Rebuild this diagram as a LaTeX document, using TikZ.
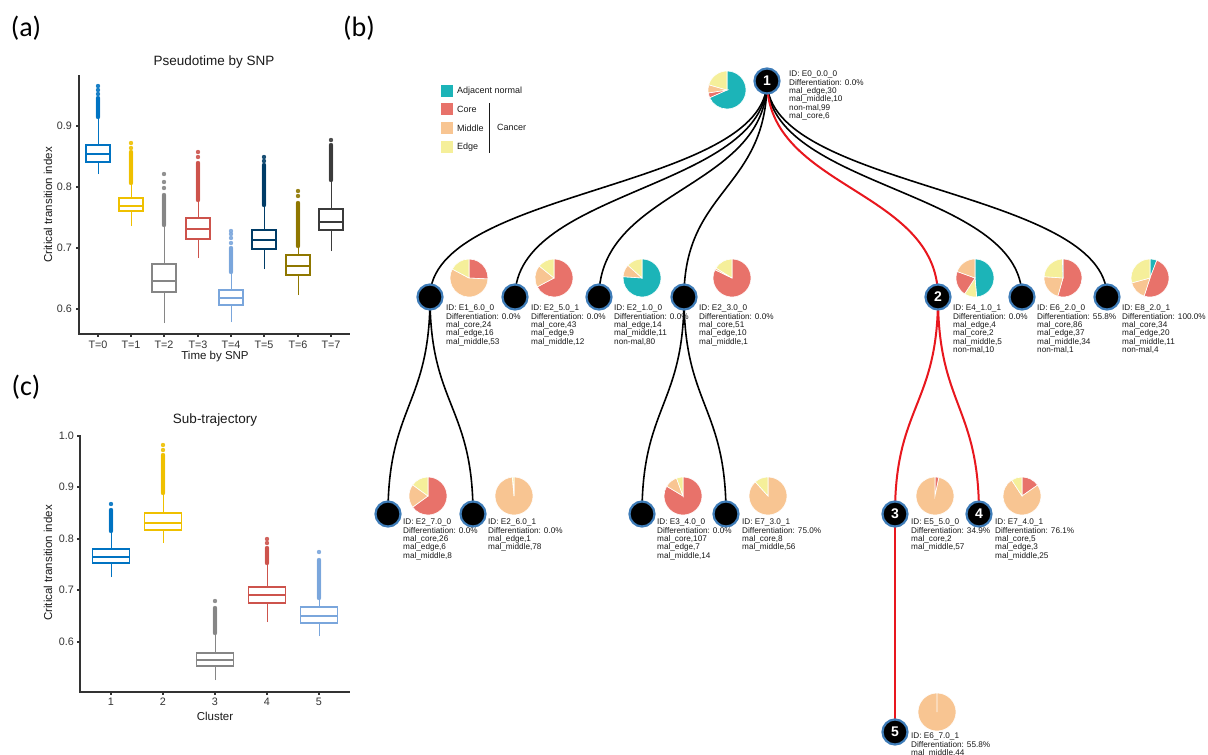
\documentclass[tikz,border=0pt]{standalone}
\usepackage{fontspec}
\setmainfont{Liberation Sans}
\newfontfamily\calib{Carlito}
\definecolor{jcoA}{HTML}{0073C2}
\definecolor{jcoB}{HTML}{EFC000}
\definecolor{jcoC}{HTML}{868686}
\definecolor{jcoD}{HTML}{CD534C}
\definecolor{jcoE}{HTML}{7AA6DC}
\definecolor{jcoF}{HTML}{003C67}
\definecolor{jcoG}{HTML}{8F7700}
\definecolor{jcoH}{HTML}{3B3B3B}
\definecolor{adjn}{HTML}{1CB4B8}
\definecolor{core}{HTML}{E8726A}
\definecolor{midc}{HTML}{F8C592}
\definecolor{edgc}{HTML}{F5EF9A}
\definecolor{ringblue}{HTML}{3E7CB8}
\definecolor{redline}{HTML}{E8171E}
\definecolor{axisgrey}{HTML}{333333}
\definecolor{txtgrey}{HTML}{1A1A1A}
\newcommand\bxp[9]{%
  \draw[#2, line width=1pt] (#1,-#4) -- (#1,-#5) (#1,-#7) -- (#1,-#8);
  \foreach \yy in {#9,...,#8} {\fill[#2, opacity=0.9] (#1,-\yy) circle (2.2pt);}
  \draw[#2, line width=1.1pt, fill=white] (#1-#3,-#5) rectangle (#1+#3,-#7);
  \draw[#2, line width=1.8pt] (#1-#3,-#6) -- (#1+#3,-#6);
}
\newcommand\extra[3]{\foreach \yy in {#3} {\fill[#2, opacity=0.9] (#1,-\yy) circle (2.2pt);}}
\newcommand\drawpie[3]{\foreach \a/\b/\c in {#3} {\fill[\c, draw=white, line width=0.6pt] (#1,#2) -- ++({90-\a}:19pt) arc[start angle={90-\a}, end angle={90-\b}, radius=19pt] -- cycle;}}
\tikzset{
  axisline/.style={axisgrey, line width=1.1pt},
  ticklab/.style={inner sep=0pt, text=axisgrey, font=\fontsize{10.8}{11}\selectfont},
  axtitle/.style={inner sep=0pt, text=txtgrey, font=\fontsize{11.5}{12}\selectfont},
  ptitle/.style={inner sep=0pt, text=txtgrey, font=\fontsize{13.5}{14}\selectfont},
  plabel/.style={inner sep=0pt, font=\calib\fontsize{28}{28}\selectfont},
  tnode/.style={circle, fill=black, draw=ringblue, line width=2.2pt, minimum size=25pt, inner sep=0pt, text=white, font=\bfseries\fontsize{14}{14}\selectfont},
  info/.style={anchor=north west, inner sep=0pt, align=left, text=txtgrey, font=\fontsize{8.2}{8.3}\selectfont},
  edge/.style={black, line width=1.6pt},
  redge/.style={redline, line width=2pt},
  legsq/.style={minimum size=12pt, inner sep=0pt},
  legtxt/.style={anchor=west, inner sep=0pt, text=txtgrey, font=\fontsize{9}{10}\selectfont}
}
\begin{document}
\begin{tikzpicture}[x=1pt,y=1pt]
\useasboundingbox (0,0) rectangle (1208,-755);
\fill[white] (0,0) rectangle (1208,-755);

% panel labels
\node[plabel] (la) at (26,-28) {(a)};
\node[plabel] (lb) at (359,-28) {(b)};
\node[plabel] (lc) at (26,-387) {(c)};

% ---------------- panel (a)
\node[ptitle] (ta) at (214,-62) {Pseudotime by SNP};
\draw[axisline] (79,-75) -- (79,-334) -- (350,-334);
\foreach \v/\yy [count=\i] in {0.9/126,0.8/187,0.7/248,0.6/309} {
  \draw[axisline] (76,-\yy) -- (79,-\yy);
  \node[ticklab, anchor=east] (ya\i) at (72,-\yy) {\v};
}
\foreach \xx [count=\i from 0] in {98,131,164,198,231,264,298,331} {
  \draw[axisline] (\xx,-334) -- (\xx,-337);
  \node[ticklab] (xa\i) at (\xx,-345) {T=\i};
}
\node[axtitle] (xta) at (215,-357) {Time by SNP};
\node[axtitle, rotate=90] (yta) at (48,-205) {Critical transition index};

\bxp{98}{jcoA}{12}{174}{162}{154}{145}{117}{98}
\extra{98}{jcoA}{94,90,86}
\bxp{131}{jcoB}{12}{226}{211}{206}{198}{183}{152}
\extra{131}{jcoB}{148,143}
\bxp{164}{jcoC}{12}{323}{292}{281}{264}{225}{195}
\extra{164}{jcoC}{188,182,174}
\bxp{198}{jcoD}{12}{258}{239}{229}{218}{200}{163}
\extra{198}{jcoD}{157,152}
\bxp{231}{jcoE}{12}{322}{305}{298}{290}{272}{248}
\extra{231}{jcoE}{243,238,234,231}
\bxp{264}{jcoF}{12}{269}{249}{240}{230}{205}{165}
\extra{264}{jcoF}{161,157}
\bxp{298}{jcoG}{12}{295}{275}{266}{255}{246}{203}
\extra{298}{jcoG}{196,191}
\bxp{331}{jcoH}{12}{251}{230}{222}{209}{180}{145}
\extra{331}{jcoH}{140}

% ---------------- panel (c)
\node[ptitle] (tc) at (215,-420) {Sub-trajectory};
\draw[axisline] (80,-435) -- (80,-692) -- (350,-692);
\foreach \v/\yy [count=\i] in {1.0/436,0.9/487,0.8/539,0.7/590,0.6/642} {
  \draw[axisline] (77,-\yy) -- (80,-\yy);
  \node[ticklab, anchor=east] (yc\i) at (74,-\yy) {\v};
}
\foreach \xx [count=\i] in {111,163,215,267,319} {
  \draw[axisline] (\xx,-692) -- (\xx,-695);
  \node[ticklab] (xc\i) at (\xx,-702) {\i};
}
\node[axtitle] (xtc) at (215,-716) {Cluster};
\node[axtitle, rotate=90] (ytc) at (48,-563) {Critical transition index};

\bxp{111}{jcoA}{18.5}{577}{563}{557}{549}{531}{510}
\extra{111}{jcoA}{504}
\bxp{163}{jcoB}{18.5}{543}{530}{523}{513}{493}{455}
\extra{163}{jcoB}{450,445}
\bxp{215}{jcoC}{18.5}{680}{666}{660}{653}{633}{608}
\extra{215}{jcoC}{601}
\bxp{267}{jcoD}{18.5}{622}{603}{595}{587}{563}{548}
\extra{267}{jcoD}{543,539}
\bxp{319}{jcoE}{18.5}{636}{623}{616}{607}{598}{560}
\extra{319}{jcoE}{552}

% ---------------- panel (b) legend
\node[legsq, fill=adjn] (lg1) at (447,-91) {};
\node[legsq, fill=core] (lg2) at (447,-109) {};
\node[legsq, fill=midc] (lg3) at (447,-128) {};
\node[legsq, fill=edgc] (lg4) at (447,-147) {};
\node[legtxt] (lt1) at (457,-91) {Adjacent normal};
\node[legtxt] (lt2) at (457,-109) {Core};
\node[legtxt] (lt3) at (457,-128) {Middle};
\node[legtxt] (lt4) at (457,-147) {Edge};
\draw[txtgrey, line width=0.8pt] (489,-103) -- (489,-153);
\node[legtxt] (lcan) at (497,-127) {Cancer};

% ---------------- tree positions
\coordinate (p1) at (767,-81);
\coordinate (pe1) at (430,-297);
\coordinate (pe2) at (515,-297);
\coordinate (pe3) at (599,-297);
\coordinate (pe4) at (684,-297);
\coordinate (p2) at (938,-297);
\coordinate (pe6) at (1022,-297);
\coordinate (pe8) at (1107,-297);
\coordinate (pf1) at (388,-514);
\coordinate (pf2) at (473,-514);
\coordinate (pf3) at (642,-514);
\coordinate (pf4) at (726,-514);
\coordinate (p3) at (895,-514);
\coordinate (p4) at (979,-514);
\coordinate (p5) at (895,-732);

% edges
\foreach \c in {pe1,pe2,pe3,pe4,pe6,pe8} {
  \draw[edge] (p1) .. controls +(0,-108) and +(0,108) .. (\c);
}
\draw[redge] (p1) .. controls +(0,-108) and +(0,108) .. (p2);
\draw[edge] (pe1) .. controls +(0,-108) and +(0,108) .. (pf1);
\draw[edge] (pe1) .. controls +(0,-108) and +(0,108) .. (pf2);
\draw[edge] (pe4) .. controls +(0,-108) and +(0,108) .. (pf3);
\draw[edge] (pe4) .. controls +(0,-108) and +(0,108) .. (pf4);
\draw[redge] (p2) .. controls +(0,-108) and +(0,108) .. (p3);
\draw[redge] (p2) .. controls +(0,-108) and +(0,108) .. (p4);
\draw[redge] (p3) -- (p5);

% tree nodes
\node[tnode] (n1) at (p1) {1};
\node[tnode] (e1) at (pe1) {};
\node[tnode] (e2) at (pe2) {};
\node[tnode] (e3) at (pe3) {};
\node[tnode] (e4) at (pe4) {};
\node[tnode] (n2) at (p2) {2};
\node[tnode] (e6) at (pe6) {};
\node[tnode] (e8) at (pe8) {};
\node[tnode] (f1) at (pf1) {};
\node[tnode] (f2) at (pf2) {};
\node[tnode] (f3) at (pf3) {};
\node[tnode] (f4) at (pf4) {};
\node[tnode] (n3) at (p3) {3};
\node[tnode] (n4) at (p4) {4};
\node[tnode] (n5) at (p5) {5};

% pies
\drawpie{727}{-90}{0/246/adjn, 246/261/core, 261/286/midc, 286/360/edgc}
\drawpie{469}{-278}{0/93/core, 93/298/midc, 298/360/edgc}
\drawpie{554}{-278}{0/242/core, 242/309/midc, 309/360/edgc}
\drawpie{642}{-278}{0/274/adjn, 274/312/midc, 312/360/edgc}
\drawpie{732}{-278}{0/296/core, 296/302/midc, 302/360/edgc}
\drawpie{975}{-278}{0/175/adjn, 175/213/edgc, 213/290/core, 290/360/midc}
\drawpie{1063}{-278}{0/196/core, 196/274/midc, 274/358/edgc, 358/360/adjn}
\drawpie{1150}{-278}{0/21/adjn, 21/198/core, 198/255/midc, 255/360/edgc}
\drawpie{428}{-496}{0/234/core, 234/306/midc, 306/360/edgc}
\drawpie{514}{-496}{0/355/midc, 355/360/edgc}
\drawpie{683}{-496}{0/301/core, 301/340/midc, 340/360/edgc}
\drawpie{768}{-496}{0/318/midc, 318/360/edgc}
\drawpie{935}{-496}{0/12/core, 12/360/midc}
\drawpie{1022}{-496}{0/55/core, 55/327/midc, 327/360/edgc}
\drawpie{937}{-712}{0/360/midc}

% info texts
\node[info] (t1) at (789,-71) {ID: E0\_0.0\_0\\Differentiation: 0.0\%\\mal\_edge,30\\mal\_middle,10\\non-mal,99\\mal\_core,6};
\node[info] (te1) at (446,-305) {ID: E1\_6.0\_0\\Differentiation: 0.0\%\\mal\_core,24\\mal\_edge,16\\mal\_middle,53};
\node[info] (te2) at (531,-305) {ID: E2\_5.0\_1\\Differentiation: 0.0\%\\mal\_core,43\\mal\_edge,9\\mal\_middle,12};
\node[info] (te3) at (614,-305) {ID: E2\_1.0\_0\\Differentiation: 0.0\%\\mal\_edge,14\\mal\_middle,11\\non-mal,80};
\node[info] (te4) at (699,-305) {ID: E2\_3.0\_0\\Differentiation: 0.0\%\\mal\_core,51\\mal\_edge,10\\mal\_middle,1};
\node[info] (tn2) at (953,-305) {ID: E4\_1.0\_1\\Differentiation: 0.0\%\\mal\_edge,4\\mal\_core,2\\mal\_middle,5\\non-mal,10};
\node[info] (te6) at (1037,-305) {ID: E6\_2.0\_0\\Differentiation: 55.8\%\\mal\_core,86\\mal\_edge,37\\mal\_middle,34\\non-mal,1};
\node[info] (te8) at (1122,-305) {ID: E8\_2.0\_1\\Differentiation: 100.0\%\\mal\_core,34\\mal\_edge,20\\mal\_middle,11\\non-mal,4};
\node[info] (tf1) at (403,-519) {ID: E2\_7.0\_0\\Differentiation: 0.0\%\\mal\_core,26\\mal\_edge,6\\mal\_middle,8};
\node[info] (tf2) at (488,-519) {ID: E2\_6.0\_1\\Differentiation: 0.0\%\\mal\_edge,1\\mal\_middle,78};
\node[info] (tf3) at (657,-519) {ID: E3\_4.0\_0\\Differentiation: 0.0\%\\mal\_core,107\\mal\_edge,7\\mal\_middle,14};
\node[info] (tf4) at (742,-519) {ID: E7\_3.0\_1\\Differentiation: 75.0\%\\mal\_core,8\\mal\_middle,56};
\node[info] (tn3) at (911,-519) {ID: E5\_5.0\_0\\Differentiation: 34.9\%\\mal\_core,2\\mal\_middle,57};
\node[info] (tn4) at (995,-519) {ID: E7\_4.0\_1\\Differentiation: 76.1\%\\mal\_core,5\\mal\_edge,3\\mal\_middle,25};
\node[info] (tn5) at (911,-733) {ID: E6\_7.0\_1\\Differentiation: 55.8\%\\mal\_middle,44};
\end{tikzpicture}
\end{document}
